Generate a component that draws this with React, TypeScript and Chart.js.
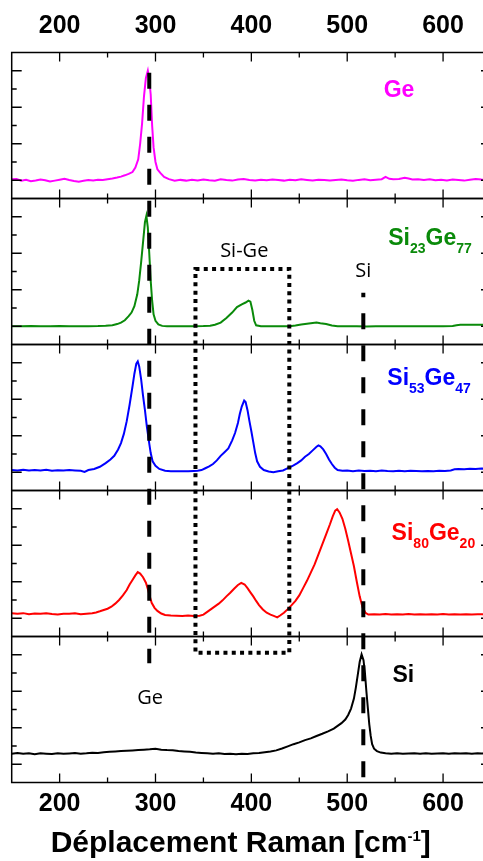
import React, { useEffect, useRef } from 'react';
import { Chart, registerables } from 'chart.js';

Chart.register(...registerables);

// ---------- data ----------
const xRange = [150, 650];
const xTickLabels = [200, 300, 400, 500, 600];
const xTickMarks = [200, 250, 300, 350, 400, 450, 500, 550, 600];
const yTickMarks = [1, 2, 3, 4, 5, 6, 7];
const xTitleMain = 'Déplacement Raman [cm';
const xTitleSup = '-1';
const xTitleEnd = ']';

const sampleNames = ['Ge', 'Si23Ge77', 'Si53Ge47', 'Si80Ge20', 'Si'];
const sampleColors = ['#FF00FF', '#0A8A0A', '#0000FF', '#FF0000', '#000000'];

// [Raman shift (cm-1), intensity (arb. units, 0-8 per panel)]
const geSpectrum = [
  [150, 1.05], [155, 1.07], [160, 0.98], [165, 1.02], [170, 0.95], [175, 0.99], [180, 1.04], [185, 1.0],
  [190, 0.93], [195, 0.98], [200, 1.03], [205, 1.08], [210, 1.01], [215, 0.96], [220, 0.92], [225, 0.97],
  [230, 1.01], [235, 0.99], [240, 1.03], [245, 1.02], [250, 1.06], [255, 1.1], [260, 1.15], [264, 1.2],
  [268, 1.27], [272, 1.35], [276, 1.45], [279, 1.7], [282, 2.15], [284, 3.0], [286, 4.1], [288, 5.6],
  [290, 6.6], [292, 7.0], [293.5, 6.5], [295, 5.7], [296.5, 4.0], [298, 2.8], [300, 2.0], [302, 1.6],
  [305, 1.4], [309, 1.18], [314, 1.06], [320, 0.97], [326, 1.02], [332, 0.98], [338, 1.03], [344, 0.99],
  [350, 1.04], [356, 1.0], [362, 0.97], [368, 1.05], [374, 1.01], [380, 0.98], [386, 1.04], [392, 1.07],
  [398, 1.02], [404, 0.99], [410, 1.03], [416, 1.0], [422, 1.04], [428, 1.02], [434, 0.98], [440, 1.03],
  [446, 1.0], [452, 1.05], [458, 1.02], [464, 0.99], [470, 1.03], [476, 1.01], [482, 0.98], [488, 1.02],
  [494, 1.04], [500, 1.0], [506, 0.97], [512, 1.02], [518, 1.05], [524, 1.0], [530, 1.03], [536, 1.06],
  [540, 1.18], [544, 1.08], [548, 1.05], [554, 1.07], [560, 1.14], [564, 1.1], [568, 1.04], [574, 1.06],
  [580, 1.02], [586, 1.05], [592, 1.0], [598, 1.03], [604, 0.99], [610, 1.04], [616, 1.01], [622, 0.98],
  [628, 1.03], [634, 1.07], [640, 1.04], [650, 1.02],
];

const si23ge77Spectrum = [
  [150, 1.0], [160, 1.0], [170, 1.01], [180, 1.0], [190, 1.0], [200, 1.01], [210, 1.0], [220, 1.0],
  [230, 1.0], [240, 1.01], [248, 1.03], [255, 1.06], [260, 1.12], [264, 1.2], [268, 1.33], [272, 1.55],
  [275, 1.75], [278, 2.1], [281, 2.75], [283, 3.5], [285, 4.5], [287, 5.6], [289, 6.7], [290.5, 7.05],
  [292, 6.4], [293.5, 5.0], [295, 3.5], [296.5, 2.4], [298, 1.65], [300, 1.3], [303, 1.1], [307, 1.02],
  [312, 1.0], [320, 1.0], [330, 1.0], [340, 1.0], [350, 1.01], [357, 1.03], [362, 1.08], [368, 1.2],
  [374, 1.45], [380, 1.75], [385, 2.05], [390, 2.2], [394, 2.3], [397, 2.4], [399, 2.35], [401, 1.9],
  [403, 1.3], [405, 1.05], [410, 1.0], [420, 1.0], [430, 1.0], [440, 1.0], [446, 1.04], [452, 1.1],
  [458, 1.14], [464, 1.18], [468, 1.2], [472, 1.16], [478, 1.12], [484, 1.04], [490, 1.0], [500, 1.0],
  [510, 1.0], [520, 0.99], [530, 1.0], [540, 1.0], [550, 1.0], [560, 1.0], [570, 1.0], [580, 1.0],
  [590, 1.0], [600, 1.0], [610, 1.01], [614, 1.06], [618, 1.08], [630, 1.08], [640, 1.08], [650, 1.08],
];

const si53ge47Spectrum = [
  [150, 1.12], [156, 1.1], [162, 1.14], [168, 1.09], [174, 1.12], [180, 1.1], [186, 1.13], [192, 1.08],
  [198, 1.11], [204, 1.09], [210, 1.12], [216, 1.1], [222, 1.08], [226, 1.02], [230, 1.12], [236, 1.18],
  [242, 1.3], [248, 1.5], [253, 1.7], [257, 1.9], [261, 2.25], [264, 2.6], [267, 3.1], [270, 3.8],
  [273, 4.7], [276, 5.7], [278, 6.4], [280, 6.95], [281.5, 7.07], [283, 6.8], [285, 6.1], [287, 5.2],
  [289, 4.4], [291, 3.5], [293, 2.75], [295, 2.05], [297, 1.6], [300, 1.35], [304, 1.18], [310, 1.08],
  [316, 1.06], [322, 1.06], [328, 1.06], [334, 1.06], [340, 1.07], [344, 1.08], [348, 1.12], [352, 1.22],
  [356, 1.32], [360, 1.45], [364, 1.65], [368, 1.9], [372, 2.1], [376, 2.3], [380, 2.75], [383, 3.15],
  [386, 3.7], [388, 4.2], [390, 4.6], [392.5, 4.93], [394, 4.85], [396, 4.4], [398, 3.8], [400, 3.25],
  [402, 2.65], [404, 2.05], [406, 1.6], [409, 1.3], [413, 1.12], [418, 1.04], [423, 1.0], [428, 1.05],
  [433, 1.1], [437, 1.2], [441, 1.3], [444, 1.38], [448, 1.5], [452, 1.65], [456, 1.85], [460, 2.0],
  [464, 2.2], [468, 2.4], [470, 2.47], [472, 2.42], [475, 2.25], [478, 2.0], [481, 1.7], [484, 1.45],
  [487, 1.25], [490, 1.12], [495, 1.08], [500, 1.1], [506, 1.06], [512, 1.09], [518, 1.07], [524, 1.08],
  [530, 1.06], [536, 1.09], [542, 1.07], [548, 1.06], [554, 1.08], [560, 1.06], [566, 1.08], [572, 1.07],
  [578, 1.05], [584, 1.07], [590, 1.06], [596, 1.08], [602, 1.07], [608, 1.1], [612, 1.16], [616, 1.18],
  [622, 1.17], [628, 1.19], [634, 1.18], [640, 1.2], [650, 1.19],
];

const si80ge20Spectrum = [
  [150, 1.27], [156, 1.25], [162, 1.28], [168, 1.22], [174, 1.26], [180, 1.24], [186, 1.27], [192, 1.23],
  [198, 1.2], [204, 1.25], [210, 1.24], [216, 1.27], [222, 1.22], [228, 1.25], [234, 1.28], [238, 1.32],
  [242, 1.38], [246, 1.45], [250, 1.52], [254, 1.63], [258, 1.8], [262, 2.0], [266, 2.25], [270, 2.55],
  [273, 2.85], [276, 3.1], [279, 3.35], [281.5, 3.53], [284, 3.45], [287, 3.25], [290, 2.95], [292, 2.6],
  [294, 2.2], [296, 1.85], [299, 1.57], [302, 1.4], [306, 1.26], [310, 1.18], [316, 1.15], [322, 1.14],
  [328, 1.13], [334, 1.15], [340, 1.13], [346, 1.14], [350, 1.2], [354, 1.35], [358, 1.5], [362, 1.65],
  [366, 1.8], [370, 1.98], [374, 2.2], [378, 2.4], [382, 2.62], [386, 2.82], [389.5, 2.94], [393, 2.85],
  [396, 2.65], [399, 2.42], [402, 2.2], [405, 1.95], [408, 1.72], [412, 1.48], [416, 1.3], [420, 1.2],
  [424, 1.12], [427, 1.05], [430, 1.15], [434, 1.3], [438, 1.5], [442, 1.72], [446, 1.95], [450, 2.25],
  [454, 2.65], [458, 3.05], [462, 3.5], [466, 3.95], [470, 4.5], [474, 5.05], [478, 5.6], [482, 6.15],
  [485, 6.6], [487.5, 6.9], [489.5, 6.98], [492, 6.8], [495, 6.45], [498, 5.9], [501, 5.25], [504, 4.55],
  [507, 3.85], [510, 3.0], [513, 2.2], [516, 1.6], [519, 1.3], [522, 1.2], [528, 1.22], [534, 1.2],
  [540, 1.23], [546, 1.21], [552, 1.22], [558, 1.2], [564, 1.23], [570, 1.21], [576, 1.22], [582, 1.2],
  [588, 1.22], [594, 1.21], [600, 1.23], [606, 1.21], [612, 1.22], [618, 1.2], [624, 1.22], [630, 1.21],
  [636, 1.22], [640, 1.22], [650, 1.21],
];

const siSpectrum = [
  [150, 1.58], [156, 1.62], [162, 1.57], [168, 1.6], [174, 1.55], [180, 1.6], [186, 1.58], [192, 1.56],
  [198, 1.6], [204, 1.57], [210, 1.59], [216, 1.61], [222, 1.58], [228, 1.6], [234, 1.63], [240, 1.62],
  [246, 1.66], [252, 1.68], [258, 1.7], [264, 1.72], [270, 1.74], [276, 1.76], [282, 1.78], [288, 1.8],
  [294, 1.82], [300, 1.85], [306, 1.8], [312, 1.78], [318, 1.77], [324, 1.72], [330, 1.7], [336, 1.68],
  [342, 1.64], [348, 1.62], [354, 1.6], [360, 1.58], [366, 1.6], [372, 1.56], [378, 1.57], [384, 1.55],
  [390, 1.58], [396, 1.56], [402, 1.6], [408, 1.62], [414, 1.66], [420, 1.7], [426, 1.76], [432, 1.86],
  [438, 1.98], [444, 2.1], [450, 2.2], [456, 2.32], [462, 2.42], [468, 2.55], [474, 2.67], [480, 2.8],
  [486, 2.95], [490, 3.1], [494, 3.25], [498, 3.45], [501, 3.7], [504, 4.05], [507, 4.6], [509, 5.2],
  [511, 5.9], [513, 6.6], [515, 7.02], [517, 6.7], [518.5, 6.0], [520, 5.0], [521.5, 4.1], [523, 3.2],
  [524.5, 2.55], [526, 2.1], [528, 1.85], [531, 1.72], [535, 1.64], [540, 1.6], [546, 1.58], [552, 1.6],
  [558, 1.57], [564, 1.59], [570, 1.6], [576, 1.58], [582, 1.6], [588, 1.57], [594, 1.59], [600, 1.6],
  [606, 1.58], [612, 1.6], [618, 1.59], [624, 1.6], [630, 1.58], [636, 1.6], [640, 1.59], [650, 1.6],
];

const spectra = [geSpectrum, si23ge77Spectrum, si53ge47Spectrum, si80ge20Spectrum, siSpectrum];

// ---------- presentation ----------
const panelIds = ['yGe', 'ySi23', 'ySi53', 'ySi80', 'ySi'];
const TICK_FONT = 'Arial, "Liberation Sans", sans-serif';
const NOTE_FONT = '"Open Sans", "DejaVu Sans", sans-serif';

// label anchors: [x value, y value in its panel]
const sampleLabelAnchors = [
  [554, 5.58],
  [586.4, 5.45],
  [585.4, 5.78],
  [589.9, 5.29],
  [558.5, 5.52],
];

function drawFormula(ctx: CanvasRenderingContext2D, text: string, cx: number, baseY: number, color: string) {
  const parts = text.split(/(\d+)/).filter((p) => p.length > 0);
  const mainFont = `bold 23px ${TICK_FONT}`;
  const subFont = `bold 14px ${TICK_FONT}`;
  const widths = parts.map((p) => {
    ctx.font = /\d/.test(p) ? subFont : mainFont;
    return ctx.measureText(p).width;
  });
  const total = widths.reduce((a, b) => a + b, 0);
  let xx = cx - total / 2;
  ctx.fillStyle = color;
  ctx.textAlign = 'left';
  ctx.textBaseline = 'alphabetic';
  parts.forEach((p, i) => {
    const isSub = /\d/.test(p);
    ctx.font = isSub ? subFont : mainFont;
    ctx.fillText(p, xx, isSub ? baseY + 8 : baseY);
    xx += widths[i];
  });
}

const decorPlugin = {
  id: 'ramanDecor',
  afterDatasetsDraw(chart: any) {
    const ctx: CanvasRenderingContext2D = chart.ctx;
    const xs = chart.scales.x;
    const area = chart.chartArea;
    ctx.save();

    // panel frames + inner ticks
    ctx.strokeStyle = '#000';
    ctx.setLineDash([]);
    panelIds.forEach((id) => {
      const ys = chart.scales[id];
      ctx.lineWidth = 1.5;
      ctx.strokeRect(area.left, ys.top, area.right - area.left, ys.bottom - ys.top);
      ctx.beginPath();
      xTickMarks.forEach((v) => {
        const px = xs.getPixelForValue(v);
        const len = v % 100 === 0 ? 9 : 5;
        ctx.moveTo(px, ys.top);
        ctx.lineTo(px, ys.top + len);
        ctx.moveTo(px, ys.bottom);
        ctx.lineTo(px, ys.bottom - len);
      });
      yTickMarks.forEach((v) => {
        const py = ys.getPixelForValue(v);
        const len = v % 2 === 1 ? 10 : 5;
        ctx.moveTo(area.left, py);
        ctx.lineTo(area.left + len, py);
        ctx.moveTo(area.right, py);
        ctx.lineTo(area.right - len, py);
      });
      ctx.lineWidth = 1.3;
      ctx.stroke();
    });

    const yGe = chart.scales.yGe;
    const ySi23 = chart.scales.ySi23;
    const ySi = chart.scales.ySi;

    // dashed reference lines (Ge and Si phonons)
    ctx.lineWidth = 4;
    ctx.lineCap = 'butt';
    ctx.setLineDash([16, 16]);
    ctx.lineDashOffset = 0;
    ctx.beginPath();
    const gx = xs.getPixelForValue(293.5);
    ctx.moveTo(gx, yGe.getPixelForValue(6.89));
    ctx.lineTo(gx, ySi.getPixelForValue(6.53));
    ctx.stroke();
    ctx.lineDashOffset = 11.4;
    ctx.beginPath();
    const sx = xs.getPixelForValue(516.8);
    ctx.moveTo(sx, ySi23.getPixelForValue(2.84));
    ctx.lineTo(sx, ySi.getPixelForValue(0.26));
    ctx.stroke();

    // dotted Si-Ge box
    ctx.setLineDash([4, 4.3]);
    ctx.lineDashOffset = 0;
    ctx.lineWidth = 4;
    const bl = xs.getPixelForValue(341.7);
    const br = xs.getPixelForValue(439.6);
    const bt = ySi23.getPixelForValue(4.14);
    const bb = ySi.getPixelForValue(7.11);
    ctx.strokeRect(bl, bt, br - bl, bb - bt);

    // black annotations
    ctx.setLineDash([]);
    ctx.fillStyle = '#000';
    ctx.font = `20px ${NOTE_FONT}`;
    ctx.textAlign = 'center';
    ctx.textBaseline = 'alphabetic';
    ctx.fillText('Si-Ge', xs.getPixelForValue(392.6), ySi23.getPixelForValue(4.81));
    ctx.fillText('Si', xs.getPixelForValue(516.8), ySi23.getPixelForValue(3.68));
    ctx.fillText('Ge', xs.getPixelForValue(294.4), ySi.getPixelForValue(4.3));

    // sample names
    sampleNames.forEach((name, i) => {
      const ys = chart.scales[panelIds[i]];
      const [ax, ay] = sampleLabelAnchors[i];
      drawFormula(ctx, name, xs.getPixelForValue(ax), ys.getPixelForValue(ay), sampleColors[i]);
    });

    // x-axis title with superscript, placed below the bottom axis labels
    const titleBase = xs.bottom - 9;
    const mainF = `bold 30px ${TICK_FONT}`;
    const supF = `bold 15px ${TICK_FONT}`;
    ctx.font = mainF;
    const w1 = ctx.measureText(xTitleMain).width;
    const w3 = ctx.measureText(xTitleEnd).width;
    ctx.font = supF;
    const w2 = ctx.measureText(xTitleSup).width;
    let tx = 240.7 - (w1 + w2 + w3) / 2;
    ctx.textAlign = 'left';
    ctx.fillStyle = '#000';
    ctx.font = mainF;
    ctx.fillText(xTitleMain, tx, titleBase);
    tx += w1;
    ctx.font = supF;
    ctx.fillText(xTitleSup, tx, titleBase - 11);
    tx += w2;
    ctx.font = mainF;
    ctx.fillText(xTitleEnd, tx, titleBase);

    ctx.restore();
  },
};

function makeYScale(weight: number) {
  return {
    type: 'linear',
    position: 'left',
    stack: 'panels',
    stackWeight: 1,
    weight,
    min: 0,
    max: 8,
    display: true,
    ticks: { display: false },
    grid: { display: false, drawTicks: false },
    border: { display: false },
  };
}

function makeXScale(position: 'top' | 'bottom') {
  const isBottom = position === 'bottom';
  return {
    type: 'linear',
    position,
    min: xRange[0],
    max: xRange[1],
    afterBuildTicks: (axis: any) => {
      axis.ticks = xTickLabels.map((v) => ({ value: v }));
    },
    afterFit: (axis: any) => {
      axis.height = isBottom ? 78.5 : 52.5;
    },
    ticks: {
      color: '#000',
      font: { family: TICK_FONT, size: 25, weight: 'bold' },
      padding: isBottom ? 6.3 : 11.7,
      maxRotation: 0,
      autoSkip: false,
    },
    grid: { display: false, drawTicks: false },
    border: { display: false },
    title: { display: false },
  };
}

export default function App() {
  const canvasRef = useRef<HTMLCanvasElement>(null);

  useEffect(() => {
    const canvas = canvasRef.current;
    if (!canvas) return;
    const datasets = spectra.map((spec, i) => ({
      label: sampleNames[i],
      data: spec.map(([x, y]) => ({ x, y })),
      borderColor: sampleColors[i],
      backgroundColor: sampleColors[i],
      borderWidth: 2,
      pointRadius: 0,
      tension: 0,
      fill: false,
      xAxisID: 'x',
      yAxisID: panelIds[i],
    }));

    const scales: any = {
      x: makeXScale('bottom'),
      xTop: makeXScale('top'),
    };
    panelIds.forEach((id, i) => {
      scales[id] = makeYScale(panelIds.length - i);
    });

    const chart = new Chart(canvas, {
      type: 'line',
      data: { datasets },
      options: {
        responsive: false,
        animation: false,
        devicePixelRatio: 1,
        parsing: false,
        normalized: true,
        layout: { padding: { left: 11.7, right: 4, top: 0, bottom: 0 } },
        scales,
        plugins: {
          legend: { display: false },
          tooltip: { enabled: false },
          title: { display: false },
        },
      } as any,
      plugins: [decorPlugin as any],
    } as any);

    return () => chart.destroy();
  }, []);

  return (
    <div
      style={{
        position: 'absolute',
        left: 0,
        top: 0,
        width: 483,
        height: 861,
        overflow: 'hidden',
        background: '#fff',
      }}
    >
      <canvas ref={canvasRef} width={495} height={861} style={{ display: 'block', width: 495, height: 861 }} />
    </div>
  );
}
